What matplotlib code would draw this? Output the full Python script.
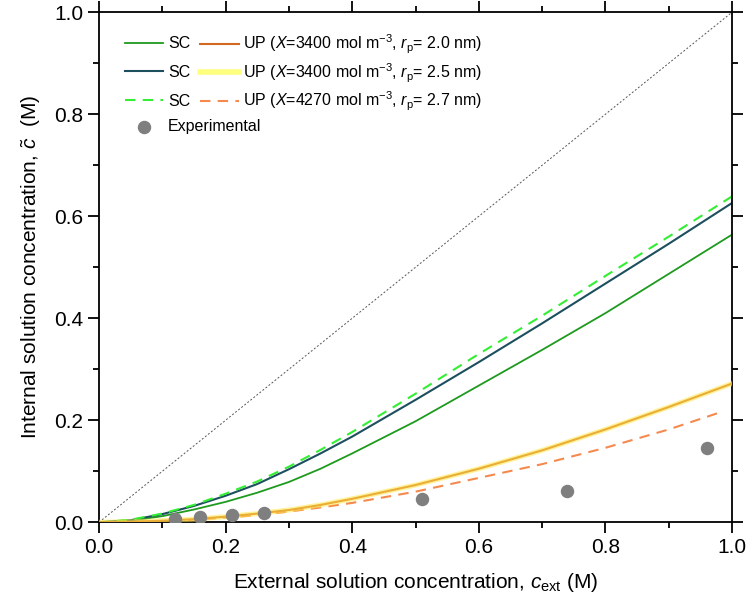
import numpy as np
import matplotlib.pyplot as plt
from matplotlib.ticker import MultipleLocator

plt.rcParams['font.family'] = ['Liberation Sans', 'DejaVu Sans']
plt.rcParams['mathtext.fontset'] = 'custom'
plt.rcParams['mathtext.rm'] = 'Liberation Sans'
plt.rcParams['mathtext.it'] = 'Liberation Sans:italic'

# external concentration grid (M)
c_ext = [0, 0.05, 0.1, 0.15, 0.2, 0.25, 0.3, 0.35, 0.4, 0.5, 0.6, 0.7, 0.8, 0.9, 1.0]

# SC model curves
sc_20 = [0, 0.003, 0.012, 0.025, 0.040, 0.058, 0.079, 0.105, 0.135, 0.198, 0.268, 0.338, 0.410, 0.487, 0.564]
sc_25 = [0, 0.004, 0.016, 0.032, 0.052, 0.075, 0.104, 0.135, 0.168, 0.240, 0.314, 0.390, 0.468, 0.546, 0.626]
sc_27 = [0, 0.005, 0.017, 0.034, 0.056, 0.080, 0.109, 0.142, 0.177, 0.252, 0.330, 0.405, 0.483, 0.560, 0.639]

# UP model curves
up_20 = [0, 0.001, 0.003, 0.006, 0.011, 0.017, 0.024, 0.034, 0.046, 0.073, 0.105, 0.141, 0.182, 0.226, 0.272]
up_25 = [0, 0.001, 0.003, 0.006, 0.011, 0.017, 0.024, 0.034, 0.046, 0.073, 0.105, 0.141, 0.182, 0.226, 0.272]
c_ext_27 = [0, 0.05, 0.1, 0.15, 0.2, 0.25, 0.3, 0.35, 0.4, 0.5, 0.6, 0.7, 0.8, 0.9, 0.98]
up_27 = [0, 0.001, 0.002, 0.005, 0.009, 0.014, 0.021, 0.029, 0.038, 0.060, 0.087, 0.114, 0.146, 0.182, 0.215]

# experimental points
exp_x = [0.12, 0.16, 0.21, 0.26, 0.51, 0.74, 0.96]
exp_y = [0.007, 0.010, 0.014, 0.018, 0.045, 0.062, 0.145]

fig = plt.figure(figsize=(7.5, 6.13), dpi=100)
ax = fig.add_axes([0.132, 0.148, 0.844, 0.832])

ax.plot([0, 1], [0, 1], color="#555555", linestyle=(0, (2, 2)), linewidth=0.7)

l1, = ax.plot(c_ext, sc_20, color="#1e9a1e", linewidth=1.3)
l2, = ax.plot(c_ext, sc_25, color="#1d4f5e", linewidth=1.5)
l3, = ax.plot(c_ext, sc_27, color="#33ee33", linewidth=1.5, linestyle=(0, (5, 3.5)))

u1, = ax.plot(c_ext, up_20, color="#d2691e", linewidth=1.5, zorder=3)
u2, = ax.plot(c_ext, up_25, color="#ffe84a", linewidth=3.6, alpha=0.55, zorder=4)
u3, = ax.plot(c_ext_27, up_27, color="#f58a4f", linewidth=1.5, linestyle=(0, (5, 3.5)))

pts = ax.scatter(exp_x, exp_y, s=75, color="#7f7f7f", zorder=5)

common = dict(loc="upper left", frameon=False, fontsize=11.5, handlelength=2.4,
              handletextpad=0.3, borderpad=0, borderaxespad=0)

# column 1: SC
leg_sc = ax.legend([l1, l2, l3], ["SC", "SC", "SC"], labelspacing=0.86,
                   bbox_to_anchor=(0.041, 0.953), **common)
ax.add_artist(leg_sc)

# column 2: UP
lab_up = r"UP ($\it{X}$=%d mol m$^{-3}$, $\it{r}_\mathrm{p}$= %.1f nm)"
leg_up = ax.legend([u1, u2, u3],
                   [lab_up % (3400, 2.0), lab_up % (3400, 2.5), lab_up % (4270, 2.7)],
                   labelspacing=0.31, bbox_to_anchor=(0.16, 0.959), **common)
for h in leg_up.legend_handles:
    h.set_alpha(1)
leg_up.legend_handles[1].set_color("#ffff80")
leg_up.legend_handles[1].set_linewidth(4)
ax.add_artist(leg_up)

ax.legend([pts], ["Experimental"], bbox_to_anchor=(0.041, 0.791), **common)

ax.set_xlim(0, 1)
ax.set_ylim(0, 1)
ax.xaxis.set_major_locator(MultipleLocator(0.2))
ax.xaxis.set_minor_locator(MultipleLocator(0.1))
ax.yaxis.set_major_locator(MultipleLocator(0.2))
ax.yaxis.set_minor_locator(MultipleLocator(0.1))
ax.tick_params(which="both", direction="out", top=True, right=True,
               labelsize=15, width=1.3)
ax.tick_params(which="major", length=8)
ax.tick_params(which="minor", length=4)
for s in ax.spines.values():
    s.set_linewidth(1.3)

ax.set_xlabel(r"External solution concentration, $\it{c}_\mathrm{ext}$ (M)", fontsize=15, labelpad=10)
ax.set_ylabel(r"Internal solution concentration, $\tilde{\it{c}}$  (M)", fontsize=15, labelpad=8)

fig.savefig("out.png", dpi=100)
